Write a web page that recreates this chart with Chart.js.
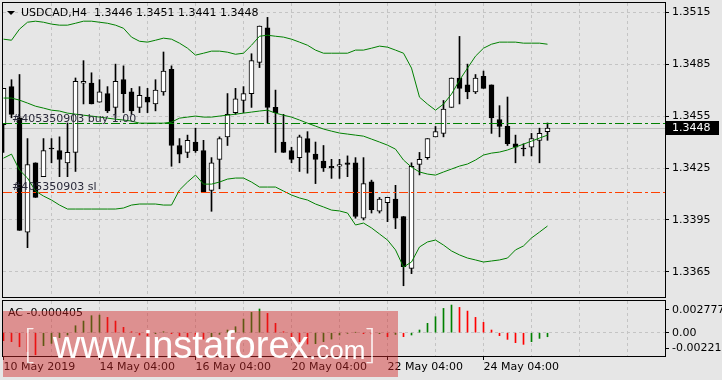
<!DOCTYPE html>
<html>
<head>
<meta charset="utf-8">
<script src="https://cdn.jsdelivr.net/npm/chart.js@4.4.1/dist/chart.umd.min.js"></script>
<style>
  html, body { margin: 0; padding: 0; background: #e6e6e6; }
  #wrap { position: relative; width: 722px; height: 380px; overflow: hidden; }
  #main { position: absolute; left: 0; top: 0; }
  #ac { position: absolute; left: 0; top: 298px; }
  #mark { position: absolute; left: 3px; top: 311px; width: 395px; height: 66px;
          background: rgba(210, 40, 40, 0.45); color: #fff; pointer-events: none;
          font-family: "Liberation Sans", Arial, sans-serif; white-space: nowrap; }
  #mark span { position: absolute; line-height: 1; }
  .br { font-family: Lato, "DejaVu Sans", sans-serif; font-weight: 300; font-size: 40px; opacity: .85; }
</style>
</head>
<body>
<div id="wrap">
  <canvas id="main" width="722" height="298"></canvas>
  <canvas id="ac" width="722" height="82"></canvas>
  <div id="mark">
    <span class="br" style="left:20px;top:12px">[</span>
    <span style="left:50px;top:15px;font-size:38px">www.instaforex</span>
    <span style="left:306px;top:26px;font-size:26px">.com</span>
    <span class="br" style="left:362px;top:12px">]</span>
  </div>
</div>
<script>
// ──────── DATA (USDCAD H4) ────────
const opens = [
  1.3450, 1.3472, 1.3454, 1.3388, 1.3428, 1.3420, 1.3436, 1.3435, 1.3428, 1.3434,
  1.3474, 1.3474, 1.3463, 1.3468, 1.3460, 1.3476, 1.3469, 1.3460, 1.3466, 1.3462,
  1.3469, 1.3482, 1.3438, 1.3434, 1.3440, 1.3435, 1.3412, 1.3430, 1.3443, 1.3457,
  1.3464, 1.3468, 1.3486, 1.3506, 1.3460, 1.3440, 1.3435, 1.3431, 1.3442, 1.3433,
  1.3429, 1.3426, 1.3426, 1.3428, 1.3428, 1.3396, 1.3417, 1.3400, 1.3405, 1.3407,
  1.3397, 1.3367, 1.3427, 1.3431, 1.3443, 1.3445, 1.3460, 1.3477, 1.3473, 1.3469,
  1.3478, 1.3473, 1.3453, 1.3449, 1.3439, 1.3436, 1.3437, 1.3441, 1.3446
];
const highs = [
  1.3471, 1.3476, 1.3479, 1.3442, 1.3428, 1.3442, 1.3442, 1.3443, 1.3451, 1.3477,
  1.3487, 1.3480, 1.3476, 1.3472, 1.3485, 1.3484, 1.3471, 1.3472, 1.3471, 1.3476,
  1.3492, 1.3484, 1.3442, 1.3444, 1.3448, 1.3441, 1.3431, 1.3443, 1.3468, 1.3471,
  1.3472, 1.3491, 1.3507, 1.3512, 1.3470, 1.3456, 1.3437, 1.3444, 1.3446, 1.3440,
  1.3438, 1.3430, 1.3430, 1.3432, 1.3431, 1.3431, 1.3418, 1.3408, 1.3408, 1.3415,
  1.3397, 1.3428, 1.3434, 1.3442, 1.3449, 1.3464, 1.3477, 1.3501, 1.3485, 1.3479,
  1.3481, 1.3473, 1.3461, 1.3466, 1.3444, 1.3439, 1.3445, 1.3448, 1.3451
];
const lows = [
  1.3434, 1.3454, 1.3389, 1.3379, 1.3408, 1.3420, 1.3428, 1.3420, 1.3420, 1.3423,
  1.3462, 1.3462, 1.3463, 1.3457, 1.3454, 1.3457, 1.3456, 1.3457, 1.3457, 1.3458,
  1.3467, 1.3426, 1.3428, 1.3431, 1.3434, 1.3411, 1.3400, 1.3413, 1.3438, 1.3456,
  1.3457, 1.3460, 1.3483, 1.3451, 1.3434, 1.3434, 1.3428, 1.3423, 1.3422, 1.3416,
  1.3423, 1.3419, 1.3419, 1.3420, 1.3396, 1.3395, 1.3399, 1.3399, 1.3394, 1.3390,
  1.3357, 1.3364, 1.3421, 1.3430, 1.3443, 1.3443, 1.3460, 1.3462, 1.3465, 1.3468,
  1.3471, 1.3445, 1.3443, 1.3438, 1.3428, 1.3432, 1.3432, 1.3428, 1.3441
];
const closes = [
  1.3471, 1.3456, 1.3389, 1.3427, 1.3408, 1.3435, 1.3436, 1.3430, 1.3434, 1.3475,
  1.3475, 1.3462, 1.3469, 1.3458, 1.3475, 1.3468, 1.3458, 1.3467, 1.3463, 1.3470,
  1.3481, 1.3438, 1.3433, 1.3441, 1.3435, 1.3411, 1.3428, 1.3442, 1.3456, 1.3465,
  1.3468, 1.3487, 1.3507, 1.3460, 1.3457, 1.3434, 1.3430, 1.3443, 1.3434, 1.3430,
  1.3425, 1.3425, 1.3427, 1.3427, 1.3397, 1.3416, 1.3401, 1.3407, 1.3408, 1.3396,
  1.3368, 1.3426, 1.3430, 1.3442, 1.3446, 1.3459, 1.3477, 1.3471, 1.3469, 1.3477,
  1.3471, 1.3454, 1.3449, 1.3439, 1.3437, 1.3436, 1.3442, 1.3445, 1.3448
];

// Bollinger Bands
const bbUpper = [
  1.34994, 1.34988, 1.35052, 1.35092, 1.35098, 1.35092, 1.35081, 1.35075, 1.35075, 1.35086,
  1.35098, 1.35098, 1.35092, 1.35086, 1.35075, 1.35057, 1.35006, 1.34982, 1.34977, 1.34988,
  1.35000, 1.34994, 1.34971, 1.34942, 1.34902, 1.34913, 1.34925, 1.34925, 1.34919, 1.34907,
  1.34913, 1.34959, 1.35011, 1.35017, 1.35011, 1.35006, 1.34994, 1.34977, 1.34959, 1.34931,
  1.34913, 1.34913, 1.34913, 1.34913, 1.34931, 1.34931, 1.34942, 1.34954, 1.34948, 1.34931,
  1.34913, 1.34827, 1.34659, 1.34619, 1.34584, 1.34619, 1.34677, 1.34757, 1.34827, 1.34896,
  1.34942, 1.34965, 1.34977, 1.34977, 1.34977, 1.34971, 1.34971, 1.34971, 1.34965
];
const bbMiddle = [
  1.34654, 1.34654, 1.34642, 1.34625, 1.34607, 1.34596, 1.34584, 1.34579, 1.34567, 1.34561,
  1.34555, 1.34550, 1.34544, 1.34538, 1.34532, 1.34527, 1.34521, 1.34509, 1.34509, 1.34509,
  1.34509, 1.34515, 1.34538, 1.34544, 1.34550, 1.34544, 1.34544, 1.34550, 1.34555, 1.34561,
  1.34567, 1.34573, 1.34579, 1.34584, 1.34567, 1.34555, 1.34544, 1.34527, 1.34509, 1.34492,
  1.34475, 1.34463, 1.34452, 1.34446, 1.34440, 1.34434, 1.34417, 1.34400, 1.34382, 1.34359,
  1.34296, 1.34255, 1.34227, 1.34215, 1.34209, 1.34227, 1.34244, 1.34261, 1.34273, 1.34296,
  1.34325, 1.34336, 1.34342, 1.34354, 1.34371, 1.34388, 1.34405, 1.34423, 1.34440
];
const bbLower = [
  1.34307, 1.34330, 1.34238, 1.34192, 1.34117, 1.34088, 1.34065, 1.34036, 1.34013, 1.34013,
  1.34013, 1.34013, 1.34013, 1.34013, 1.34013, 1.34019, 1.34036, 1.34042, 1.34042, 1.34042,
  1.34036, 1.34036, 1.34123, 1.34169, 1.34209, 1.34157, 1.34157, 1.34169, 1.34186, 1.34192,
  1.34192, 1.34169, 1.34140, 1.34140, 1.34140, 1.34117, 1.34094, 1.34077, 1.34065, 1.34042,
  1.34025, 1.34007, 1.34002, 1.33990, 1.33921, 1.33932, 1.33904, 1.33869, 1.33834, 1.33777,
  1.33678, 1.33707, 1.33794, 1.33823, 1.33834, 1.33805, 1.33771, 1.33748, 1.33730, 1.33719,
  1.33707, 1.33713, 1.33719, 1.33730, 1.33777, 1.33800, 1.33846, 1.33880, 1.33915
];

// Accelerator Oscillator
const acValues = [
  -0.00080, -0.00090, -0.00141, -0.00190, -0.002218, -0.00130, -0.00107, -0.00050, -0.00023, 0.00070,
  0.00117, 0.00171, 0.00177, 0.00154, 0.00117, 0.00054, 0.00010, -0.00023, -0.00030, -0.00010,
  0.00010, -0.00010, -0.00030, -0.00040, -0.00057, -0.00064, -0.00050, -0.00017, 0.00027, 0.00060,
  0.00137, 0.00204, 0.00238, 0.00194, 0.00094, 0.00010, -0.00040, -0.00090, -0.00114, -0.00110,
  -0.00090, -0.00064, -0.00023, -0.00007, 0.00003, -0.00010, -0.00012, -0.00010, -0.00040, -0.00017,
  -0.00040, -0.00023, 0.00027, 0.00094, 0.00161, 0.00244, 0.002777, 0.00254, 0.00217, 0.00154,
  0.00104, 0.00027, -0.00030, -0.00067, -0.00100, -0.00117, -0.00090, -0.00057, -0.000405
];

// Axis labels
const priceTicks = [1.3365, 1.3395, 1.3425, 1.3455, 1.3485, 1.3515];
const timeTickIdx = [0, 12, 24, 36, 48, 60];
const timeTickText = ["10 May 2019", "14 May 04:00", "16 May 04:00", "20 May 04:00", "22 May 04:00", "24 May 04:00"];
const acTickVals = [0.00228, 0, -0.00154];
const acTickText = ["0.002777", "0.00", "-0.002218"];

// Trade levels + captions
const buyLevel = 1.3451;
const slLevel = 1.3411;
const buyText = "#405350903 buy 1.00";
const slText = "#405350903 sl";
const headerText = "USDCAD,H4  1.3446 1.3451 1.3441 1.3448";
const acText = "AC -0.000405";

// ──────── LOOK ────────
const X_MIN = -0.0625, X_MAX = 82.6875;        // 8 px per bar
const Y_MIN = 1.33505, Y_MAX = 1.35203;
const AC_MIN = -0.002339, AC_MAX = 0.003183;
const GRID = "#c4c4c4";
const BAND = "#008000";
const FONT = '11px "DejaVu Sans", sans-serif';

Chart.defaults.font.family = '"DejaVu Sans", sans-serif';
Chart.defaults.font.size = 11;
Chart.defaults.color = "#000";

const idx = opens.map((_, i) => i);
const gridIdx = [];
for (let i = 0; i <= 78; i += 6) gridIdx.push(i);

const fixWidth = w => s => { s.width = w; s.paddingTop = 0; s.paddingBottom = 0; };
const fixHeight = h => s => { s.height = h; s.paddingLeft = 0; s.paddingRight = 0; };
const frame = (ctx, a) => {
  ctx.save();
  ctx.strokeStyle = "#000";
  ctx.lineWidth = 1;
  ctx.strokeRect(a.left - 0.5, a.top - 0.5, a.width + 1, a.height + 1);
  ctx.restore();
};

// ──────── MAIN PANEL ────────
const hLine = (ctx, a, py, color, dash) => {
  ctx.save();
  ctx.strokeStyle = color;
  ctx.lineWidth = 1;
  ctx.setLineDash(dash);
  ctx.beginPath();
  ctx.moveTo(a.left, py);
  ctx.lineTo(a.right, py);
  ctx.stroke();
  ctx.restore();
};

const mainDecor = {
  id: "mainDecor",
  beforeDatasetsDraw(chart) {
    const { ctx, chartArea: a, scales: { y } } = chart;
    const py = Math.round(y.getPixelForValue(closes[closes.length - 1])) + 0.5;
    hLine(ctx, a, py, "#bdbdbd", []);
  },
  afterDatasetsDraw(chart) {
    const { ctx, chartArea: a, scales: { y } } = chart;
    const buyY = Math.round(y.getPixelForValue(buyLevel)) + 0.5;
    const slY = Math.round(y.getPixelForValue(slLevel)) + 0.5;
    hLine(ctx, a, buyY, "#008000", [9, 3, 3, 3]);
    hLine(ctx, a, slY, "#ff4000", [9, 3, 3, 3]);

    ctx.save();
    ctx.font = FONT;
    ctx.textBaseline = "alphabetic";
    ctx.fillStyle = "#2a2a3a";
    ctx.fillText(buyText, a.left + 9, buyY - 2);
    ctx.fillText(slText, a.left + 9, slY - 3);

    // header
    ctx.fillStyle = "#000";
    ctx.beginPath();
    ctx.moveTo(a.left + 4, a.top + 8);
    ctx.lineTo(a.left + 12, a.top + 8);
    ctx.lineTo(a.left + 8, a.top + 12);
    ctx.closePath();
    ctx.fill();
    ctx.fillText(headerText, a.left + 18, a.top + 13);
    ctx.restore();
  },
  afterDraw(chart) {
    const { ctx, chartArea: a, scales: { y } } = chart;
    frame(ctx, a);
    const last = closes[closes.length - 1];
    const py = Math.round(y.getPixelForValue(last));
    ctx.save();
    ctx.fillStyle = "#000";
    ctx.fillRect(a.right + 1, py - 7, 53, 14);
    ctx.fillStyle = "#fff";
    ctx.font = FONT;
    ctx.textBaseline = "middle";
    ctx.fillText(last.toFixed(4), a.right + 7, py + 0.5);
    ctx.restore();
  }
};

const bandSet = (vals) => ({
  type: "line",
  order: 1,
  data: idx.map(i => ({ x: i, y: vals[i] })),
  borderColor: BAND,
  borderWidth: 1,
  pointRadius: 0,
  tension: 0
});

new Chart(document.getElementById("main"), {
  type: "bar",
  data: {
    datasets: [
      bandSet(bbUpper),
      bandSet(bbMiddle),
      bandSet(bbLower),
      {
        order: 2,
        data: idx.map(i => ({ x: i, y: [opens[i], closes[i]] })),
        backgroundColor: c => (c.dataIndex !== undefined && closes[c.dataIndex] <= opens[c.dataIndex]) ? "#000" : "#fff",
        borderColor: "#000",
        borderWidth: 1,
        borderSkipped: false,
        barThickness: 5,
        minBarLength: 1,
        grouped: false
      },
      {
        order: 3,
        data: idx.map(i => ({ x: i, y: [lows[i], highs[i]] })),
        backgroundColor: "#000",
        borderWidth: 0,
        barThickness: 1,
        grouped: false
      }
    ]
  },
  options: {
    responsive: false,
    animation: false,
    events: [],
    layout: { padding: { left: 3, top: 3, right: 0, bottom: 1 } },
    plugins: { legend: { display: false }, tooltip: { enabled: false } },
    scales: {
      x: {
        type: "linear",
        offset: false,
        min: X_MIN,
        max: X_MAX,
        afterBuildTicks: s => { s.ticks = gridIdx.map(v => ({ value: v })); },
        afterFit: fixHeight(0),
        ticks: { display: false },
        grid: { offset: false, color: c => (c.tick && c.tick.value > 0) ? GRID : "transparent", drawTicks: false },
        border: { display: false, dash: [3, 3] }
      },
      y: {
        position: "right",
        min: Y_MIN,
        max: Y_MAX,
        afterBuildTicks: s => { s.ticks = priceTicks.map(v => ({ value: v })); },
        afterFit: fixWidth(57),
        ticks: { padding: 3, callback: v => v.toFixed(4) },
        grid: { color: GRID, tickColor: "#000", tickLength: 4 },
        border: { display: false, dash: [3, 3] }
      }
    }
  },
  plugins: [mainDecor]
});

// ──────── AC PANEL ────────
const acDecor = {
  id: "acDecor",
  afterDraw(chart) {
    const { ctx, chartArea: a } = chart;
    frame(ctx, a);
    ctx.save();
    ctx.font = FONT;
    ctx.fillStyle = "#000";
    ctx.fillText(acText, a.left + 5, a.top + 15);
    ctx.restore();
  }
};

new Chart(document.getElementById("ac"), {
  type: "bar",
  data: {
    datasets: [{
      data: idx.map(i => ({ x: i, y: acValues[i] })),
      backgroundColor: c => {
        const i = c.dataIndex;
        if (i === undefined) return "#ff0000";
        return (i > 0 && acValues[i] > acValues[i - 1]) ? "#008000" : "#ff0000";
      },
      borderWidth: 0,
      barThickness: 1,
      grouped: false
    }]
  },
  options: {
    responsive: false,
    animation: false,
    events: [],
    layout: { padding: { left: 3, top: 3, right: 0, bottom: 0 } },
    plugins: { legend: { display: false }, tooltip: { enabled: false } },
    scales: {
      x: {
        type: "linear",
        offset: false,
        min: X_MIN,
        max: X_MAX,
        afterBuildTicks: s => { s.ticks = gridIdx.map(v => ({ value: v })); },
        afterFit: fixHeight(24),
        ticks: {
          autoSkip: false,
          maxRotation: 0,
          align: "start",
          padding: 1,
          callback: v => {
            const k = timeTickIdx.indexOf(v);
            return k < 0 ? "" : timeTickText[k];
          }
        },
        grid: {
          offset: false,
          color: c => (c.tick && c.tick.value > 0) ? GRID : "transparent",
          tickColor: c => (c.tick && timeTickIdx.includes(c.tick.value)) ? "#000" : "transparent",
          tickLength: 4
        },
        border: { display: false, dash: [3, 3] }
      },
      y: {
        position: "right",
        min: AC_MIN,
        max: AC_MAX,
        afterBuildTicks: s => { s.ticks = acTickVals.map(v => ({ value: v })); },
        afterFit: fixWidth(57),
        ticks: { padding: 3, callback: (v, i) => acTickText[i] },
        grid: {
          color: c => (c.tick && c.tick.value === 0) ? GRID : "transparent",
          tickColor: "#000",
          tickLength: 4
        },
        border: { display: false, dash: [3, 3] }
      }
    }
  },
  plugins: [acDecor]
});
</script>
</body>
</html>
